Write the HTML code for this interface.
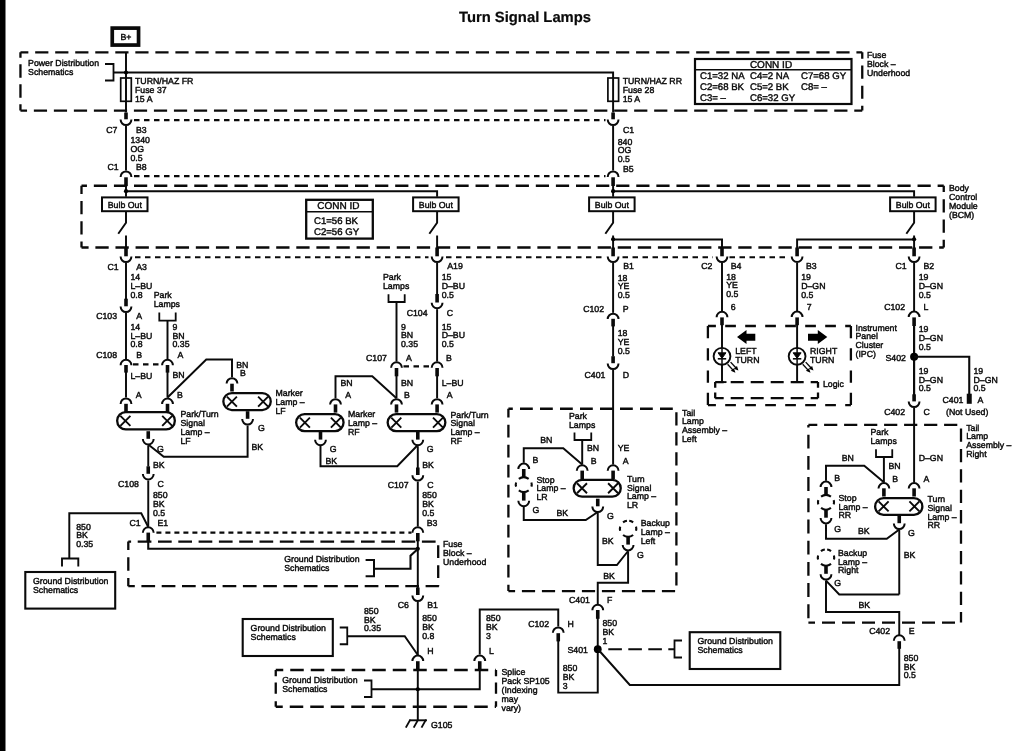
<!DOCTYPE html>
<html><head><meta charset="utf-8"><title>Turn Signal Lamps</title>
<style>
html,body{margin:0;padding:0;background:#fff;}
body{width:1024px;height:751px;overflow:hidden;font-family:"Liberation Sans",sans-serif;}
svg{display:block;filter:grayscale(1);text-rendering:geometricPrecision;}
svg text{font-family:"Liberation Sans",sans-serif;fill:#0a0a0a;stroke:#0a0a0a;stroke-width:0.42px;}
.t{font-size:8.75px;}
.c{font-size:9.6px;}
.ch{font-size:10px;}
.title{font-size:14.8px;font-weight:bold;stroke-width:0.2px;}
</style></head><body>
<svg width="1024" height="751" viewBox="0 0 1024 751" fill="none" stroke="#0a0a0a" stroke-linecap="butt" stroke-linejoin="miter">
<rect x="0" y="0" width="5.5" height="751" fill="#000" stroke="none"/>
<text x="525" y="21.7" class="title" text-anchor="middle">Turn Signal Lamps</text>
<rect x="112.25" y="28.1" width="26.3" height="16.95" stroke-width="3.7" fill="none"/>
<text x="126" y="39.7" class="t" text-anchor="middle">B+</text>
<path d="M20.45 52.35 L862.25 52.35" stroke-width="2.3" stroke-dasharray="13.2 6.83" stroke-dashoffset="5.3"/>
<path d="M20.45 110.6 L862.25 110.6" stroke-width="2.3" stroke-dasharray="13.2 6.81" stroke-dashoffset="6.6"/>
<path d="M20.45 52.35 L20.45 110.6" stroke-width="2.3" stroke-dasharray="13.4 6.6" stroke-dashoffset="8.1"/>
<path d="M862.25 52.35 L862.25 110.6" stroke-width="2.3" stroke-dasharray="13.2 6.9" stroke-dashoffset="6.9"/>
<text x="28.1" y="66" class="t">Power Distribution</text>
<text x="28.1" y="75.1" class="t">Schematics</text>
<path d="M105 64 L113.5 64 L113.5 80.5 L105 80.5" stroke-width="1.8" />
<path d="M113.5 72.5 L613.1 72.5 L613.1 78" stroke-width="1.95" />
<path d="M126 52.4 L126 112.5" stroke-width="1.95" />
<circle cx="126" cy="72.5" r="2.1" fill="#000" stroke="none"/>
<rect x="120.7" y="78" width="10.6" height="23.3" stroke-width="1.7" fill="none"/>
<text x="135" y="84.3" class="t">TURN/HAZ FR</text>
<text x="135" y="93" class="t">Fuse 37</text>
<text x="135" y="101.7" class="t">15 A</text>
<path d="M613.1 78 L613.1 112.5" stroke-width="1.95" />
<rect x="607.9" y="78" width="10.7" height="23.3" stroke-width="1.7" fill="none"/>
<text x="622.7" y="84.3" class="t">TURN/HAZ RR</text>
<text x="622.7" y="93" class="t">Fuse 28</text>
<text x="622.7" y="101.7" class="t">15 A</text>
<text x="866.9" y="57.9" class="t">Fuse</text>
<text x="866.9" y="66.75" class="t">Block –</text>
<text x="866.9" y="75.6" class="t">Underhood</text>
<rect x="695" y="59" width="156.5" height="45" stroke-width="2.2" fill="none"/>
<path d="M695 69.7 L851.5 69.7" stroke-width="1.6" />
<text x="771" y="67.9" class="ch" text-anchor="middle">CONN ID</text>
<text x="700" y="79" class="c">C1=32 NA</text>
<text x="700" y="89.9" class="c">C2=68 BK</text>
<text x="700" y="100.8" class="c">C3= –</text>
<text x="750" y="79" class="c">C4=2 NA</text>
<text x="750" y="89.9" class="c">C5=2 BK</text>
<text x="750" y="100.8" class="c">C6=32 GY</text>
<text x="801" y="79" class="c">C7=68 GY</text>
<text x="801" y="89.9" class="c">C8= –</text>
<path d="M126 112.5 V119.3" stroke-width="3.6"/>
<path d="M120.6 119.6 A5.4 5.4 0 0 0 131.4 119.6" stroke-width="2"/>
<path d="M126 126 L126 170.5" stroke-width="1.95" />
<path d="M120.6 176.9 A5.4 5.4 0 0 1 131.4 176.9" stroke-width="2"/>
<path d="M126 177.3 V186" stroke-width="3.6"/>
<path d="M613.1 112.5 V119.3" stroke-width="3.6"/>
<path d="M607.7 119.6 A5.4 5.4 0 0 0 618.5 119.6" stroke-width="2"/>
<path d="M613.1 126 L613.1 170.5" stroke-width="1.95" />
<path d="M607.7 176.9 A5.4 5.4 0 0 1 618.5 176.9" stroke-width="2"/>
<path d="M613.1 177.3 V186" stroke-width="3.6"/>
<path d="M134 120.1 H605.5" stroke-width="2.1" stroke-dasharray="5.5 4.5"/>
<path d="M134 176.1 H605.5" stroke-width="2.1" stroke-dasharray="5.5 4.5"/>
<text x="106.3" y="132.6" class="t">C7</text>
<text x="136" y="132.6" class="t">B3</text>
<text x="130.5" y="143.2" class="t">1340</text>
<text x="130.5" y="151.9" class="t">OG</text>
<text x="130.5" y="160.6" class="t">0.5</text>
<text x="107.5" y="170.2" class="t">C1</text>
<text x="136" y="170.2" class="t">B8</text>
<text x="623" y="132.6" class="t">C1</text>
<text x="617.7" y="144.5" class="t">840</text>
<text x="617.7" y="153.2" class="t">OG</text>
<text x="617.7" y="161.9" class="t">0.5</text>
<text x="623" y="172" class="t">B5</text>
<path d="M81.5 185.75 L943.75 185.75" stroke-width="2.3" stroke-dasharray="13.2 6.89" stroke-dashoffset="7.75"/>
<path d="M81.5 247.5 L943.75 247.5" stroke-width="2.3" stroke-dasharray="13.3 6.79" stroke-dashoffset="6.2"/>
<path d="M81.5 185.75 L81.5 247.5" stroke-width="2.3" stroke-dasharray="13.2 7.1" stroke-dashoffset="5.05"/>
<path d="M943.75 185.75 L943.75 247.5" stroke-width="2.3" stroke-dasharray="13.2 7.1" stroke-dashoffset="6.85"/>
<text x="949" y="190.8" class="t">Body</text>
<text x="949" y="199.7" class="t">Control</text>
<text x="949" y="208.6" class="t">Module</text>
<text x="949" y="217.5" class="t">(BCM)</text>
<path d="M126 186 L126 196.75" stroke-width="1.95" />
<path d="M126 191.2 L437.1 191.2 L437.1 196.75" stroke-width="1.95" />
<circle cx="126" cy="191.2" r="2.1" fill="#000" stroke="none"/>
<path d="M613.1 186 L613.1 196.75" stroke-width="1.95" />
<path d="M613.1 191.2 L914.1 191.2 L914.1 196.75" stroke-width="1.95" />
<circle cx="613.1" cy="191.2" r="2.1" fill="#000" stroke="none"/>
<rect x="102" y="197.4" width="45.5" height="13.8" stroke-width="2" fill="#fff"/>
<text x="124.8" y="207.8" class="t" text-anchor="middle">Bulb Out</text>
<path d="M126 212 L126 222.8 L118.25 233.8" stroke-width="1.95" />
<rect x="413.1" y="197.4" width="45.5" height="13.8" stroke-width="2" fill="#fff"/>
<text x="435.9" y="207.8" class="t" text-anchor="middle">Bulb Out</text>
<path d="M437.1 212 L437.1 222.8 L429.35 233.8" stroke-width="1.95" />
<rect x="589.1" y="197.4" width="45.5" height="13.8" stroke-width="2" fill="#fff"/>
<text x="611.9" y="207.8" class="t" text-anchor="middle">Bulb Out</text>
<path d="M613.1 212 L613.1 222.8 L605.35 233.8" stroke-width="1.95" />
<rect x="890.1" y="197.4" width="45.5" height="13.8" stroke-width="2" fill="#fff"/>
<text x="912.9" y="207.8" class="t" text-anchor="middle">Bulb Out</text>
<path d="M914.1 212 L914.1 222.8 L906.35 233.8" stroke-width="1.95" />
<rect x="306.2" y="199.8" width="66.6" height="38.8" stroke-width="2.3" fill="none"/>
<path d="M306.2 211.8 L372.8 211.8" stroke-width="1.6" />
<text x="338.3" y="209.2" class="ch" text-anchor="middle">CONN ID</text>
<text x="314" y="224.3" class="c">C1=56 BK</text>
<text x="314" y="235.1" class="c">C2=56 GY</text>
<path d="M126 235.5 L126 248" stroke-width="1.95" />
<path d="M437.1 235.5 L437.1 248" stroke-width="1.95" />
<path d="M613.1 235.5 L613.1 248" stroke-width="1.95" />
<path d="M613.1 239.5 L722 239.5 L722 248" stroke-width="1.95" />
<circle cx="613.1" cy="239.3" r="2.1" fill="#000" stroke="none"/>
<path d="M914.1 235.5 L914.1 248" stroke-width="1.95" />
<path d="M914.1 239.5 L797.1 239.5 L797.1 248" stroke-width="1.95" />
<circle cx="914.1" cy="239.3" r="2.1" fill="#000" stroke="none"/>
<path d="M126 247.5 V256.3" stroke-width="3.6"/>
<path d="M120.6 256.6 A5.4 5.4 0 0 0 131.4 256.6" stroke-width="2"/>
<path d="M437.1 247.5 V256.3" stroke-width="3.6"/>
<path d="M431.7 256.6 A5.4 5.4 0 0 0 442.5 256.6" stroke-width="2"/>
<path d="M613.1 247.5 V256.3" stroke-width="3.6"/>
<path d="M607.7 256.6 A5.4 5.4 0 0 0 618.5 256.6" stroke-width="2"/>
<path d="M722 247.5 V256.3" stroke-width="3.6"/>
<path d="M716.6 256.6 A5.4 5.4 0 0 0 727.4 256.6" stroke-width="2"/>
<path d="M797.1 247.5 V256.3" stroke-width="3.6"/>
<path d="M791.7 256.6 A5.4 5.4 0 0 0 802.5 256.6" stroke-width="2"/>
<path d="M914.1 247.5 V256.3" stroke-width="3.6"/>
<path d="M908.7 256.6 A5.4 5.4 0 0 0 919.5 256.6" stroke-width="2"/>
<path d="M135 257.2 H428.5" stroke-width="2.1" stroke-dasharray="5.5 4.5"/>
<path d="M446 257.2 H606" stroke-width="2.1" stroke-dasharray="5.5 4.5"/>
<path d="M622.5 257.2 H713" stroke-width="2.1" stroke-dasharray="5.5 4.5"/>
<path d="M729.5 257.2 H789" stroke-width="2.1" stroke-dasharray="5.5 4.5"/>
<text x="107.5" y="269.5" class="t">C1</text>
<text x="136.2" y="269.5" class="t">A3</text>
<text x="130.5" y="280.2" class="t">14</text>
<text x="130.5" y="288.9" class="t">L–BU</text>
<text x="130.5" y="297.6" class="t">0.8</text>
<path d="M126 263 L126 299" stroke-width="1.95" />
<path d="M126 298.7 V306.3" stroke-width="3.6"/>
<path d="M120.6 306.6 A5.4 5.4 0 0 0 131.4 306.6" stroke-width="2"/>
<text x="96.2" y="319.3" class="t">C103</text>
<text x="136.2" y="319.3" class="t">A</text>
<text x="130.5" y="330" class="t">14</text>
<text x="130.5" y="338.7" class="t">L–BU</text>
<text x="130.5" y="347.4" class="t">0.8</text>
<path d="M126 313 L126 359" stroke-width="1.95" />
<text x="153.7" y="297.6" class="t">Park</text>
<text x="153.7" y="306.9" class="t">Lamps</text>
<path d="M159.3 312.5 L159.3 320.7 L175.7 320.7 L175.7 312.5" stroke-width="1.8" />
<path d="M167.5 320.7 L167.5 359" stroke-width="1.95" />
<text x="172.5" y="330" class="t">9</text>
<text x="172.5" y="338.7" class="t">BN</text>
<text x="172.5" y="347.4" class="t">0.35</text>
<text x="96.2" y="357.6" class="t">C108</text>
<text x="136.2" y="357.6" class="t">B</text>
<text x="177.5" y="357.6" class="t">A</text>
<path d="M120.6 365.2 A5.4 5.4 0 0 1 131.4 365.2" stroke-width="2"/>
<path d="M126 365 V372.6" stroke-width="3.6"/>
<path d="M126 372 L126 397.5" stroke-width="1.95" />
<path d="M120.6 403.9 A5.4 5.4 0 0 1 131.4 403.9" stroke-width="2"/>
<path d="M126 403.8 V412" stroke-width="3.6"/>
<path d="M162.1 365.2 A5.4 5.4 0 0 1 172.9 365.2" stroke-width="2"/>
<path d="M167.5 365 V372.6" stroke-width="3.6"/>
<path d="M167.5 372 L167.5 397.5" stroke-width="1.95" />
<path d="M162.1 403.9 A5.4 5.4 0 0 1 172.9 403.9" stroke-width="2"/>
<path d="M167.5 403.8 V412" stroke-width="3.6"/>
<path d="M133 364.4 H161" stroke-width="2.1" stroke-dasharray="5.5 4.5"/>
<text x="130.5" y="379.3" class="t">L–BU</text>
<text x="172.5" y="378.2" class="t">BN</text>
<text x="135.7" y="397.5" class="t">A</text>
<text x="177" y="397.5" class="t">B</text>
<rect x="117.15" y="412.15" width="57.7" height="17.3" rx="8.65" ry="8.65" stroke-width="2.3" fill="#fff"/>
<path d="M120.4 415.8 L130.4 425.8 M130.4 415.8 L120.4 425.8" stroke-width="1.9"/>
<path d="M162.2 415.8 L172.2 425.8 M172.2 415.8 L162.2 425.8" stroke-width="1.9"/>
<text x="180.5" y="417.1" class="t">Park/Turn</text>
<text x="180.5" y="425.9" class="t">Signal</text>
<text x="180.5" y="434.7" class="t">Lamp –</text>
<text x="180.5" y="443.5" class="t">LF</text>
<path d="M148.25 431.2 V438.8" stroke-width="3.6"/>
<path d="M142.85 439.1 A5.4 5.4 0 0 0 153.65 439.1" stroke-width="2"/>
<text x="157" y="451.8" class="t">G</text>
<path d="M148.25 445.5 L148.25 466.5" stroke-width="1.95" />
<path d="M148.25 444.5 L163.75 456.75 L247.6 456.75 L247.6 425.5" stroke-width="1.95" />
<text x="153" y="467.5" class="t">BK</text>
<path d="M148.25 466.3 V473.8" stroke-width="3.6"/>
<path d="M142.85 474.1 A5.4 5.4 0 0 0 153.65 474.1" stroke-width="2"/>
<text x="118" y="486.8" class="t">C108</text>
<text x="157.5" y="486.8" class="t">C</text>
<text x="153" y="498" class="t">850</text>
<text x="153" y="506.75" class="t">BK</text>
<text x="153" y="515.5" class="t">0.5</text>
<path d="M148.25 480.5 L148.25 526.5" stroke-width="1.95" />
<text x="129.5" y="526.3" class="t">C1</text>
<text x="157.5" y="526.3" class="t">E1</text>
<path d="M142.85 532.7 A5.4 5.4 0 0 1 153.65 532.7" stroke-width="2"/>
<path d="M148.25 532.6 V541.3" stroke-width="3.6"/>
<path d="M167.5 397.5 L206.25 359.5 L232 359.5 L232 377.2" stroke-width="1.95" />
<text x="236.2" y="367.6" class="t">BN</text>
<text x="240" y="376.3" class="t">B</text>
<path d="M226.6 383.6 A5.4 5.4 0 0 1 237.4 383.6" stroke-width="2"/>
<path d="M232 383.7 V391.5" stroke-width="3.6"/>
<rect x="223.35" y="393.05" width="47.4" height="17" rx="8.5" ry="8.5" stroke-width="2.3" fill="#fff"/>
<path d="M226.9 396.55 L236.9 406.55 M236.9 396.55 L226.9 406.55" stroke-width="1.9"/>
<path d="M258.1 396.55 L268.1 406.55 M268.1 396.55 L258.1 406.55" stroke-width="1.9"/>
<path d="M247.6 411.2 V418.8" stroke-width="3.6"/>
<path d="M242.2 419.1 A5.4 5.4 0 0 0 253 419.1" stroke-width="2"/>
<text x="258" y="431.3" class="t">G</text>
<text x="251.5" y="450" class="t">BK</text>
<text x="275.5" y="396.3" class="t">Marker</text>
<text x="275.5" y="405.05" class="t">Lamp –</text>
<text x="275.5" y="413.8" class="t">LF</text>
<path d="M148.25 527 L141.25 513.2 L69.3 513.2 L69.3 558.25" stroke-width="1.95" />
<path d="M62 566.5 L62 558.5 L78.3 558.5 L78.3 566.5" stroke-width="1.9" />
<text x="76.2" y="529.5" class="t">850</text>
<text x="76.2" y="538.25" class="t">BK</text>
<text x="76.2" y="547" class="t">0.35</text>
<rect x="25.3" y="572" width="89.9" height="36.6" stroke-width="2.1" fill="none"/>
<text x="33" y="584.3" class="t">Ground Distribution</text>
<text x="33" y="593.1" class="t">Schematics</text>
<text x="447.2" y="269.3" class="t">A19</text>
<text x="441.7" y="280" class="t">15</text>
<text x="441.7" y="288.75" class="t">D–BU</text>
<text x="441.7" y="297.5" class="t">0.5</text>
<path d="M437.1 263 L437.1 294.5" stroke-width="1.95" />
<path d="M437.1 294 V302.5" stroke-width="3.6"/>
<path d="M431.7 302.8 A5.4 5.4 0 0 0 442.5 302.8" stroke-width="2"/>
<text x="406.7" y="315.8" class="t">C104</text>
<text x="446.7" y="315.8" class="t">C</text>
<text x="441.7" y="329.6" class="t">15</text>
<text x="441.7" y="338.4" class="t">D–BU</text>
<text x="441.7" y="347.2" class="t">0.5</text>
<path d="M437.1 309.2 L437.1 361.5" stroke-width="1.95" />
<text x="383" y="280" class="t">Park</text>
<text x="383" y="288.8" class="t">Lamps</text>
<path d="M388.5 294.2 L388.5 302 L404.7 302 L404.7 294.2" stroke-width="1.8" />
<path d="M396.5 302 L396.5 361.5" stroke-width="1.95" />
<text x="401" y="329.6" class="t">9</text>
<text x="401" y="338.4" class="t">BN</text>
<text x="401" y="347.2" class="t">0.35</text>
<text x="366" y="361.3" class="t">C107</text>
<text x="406" y="361.3" class="t">A</text>
<text x="446" y="361.3" class="t">B</text>
<path d="M391.1 367.7 A5.4 5.4 0 0 1 401.9 367.7" stroke-width="2"/>
<path d="M396.5 368 V376.3" stroke-width="3.6"/>
<path d="M396.5 376 L396.5 398.2" stroke-width="1.95" />
<path d="M391.1 404.6 A5.4 5.4 0 0 1 401.9 404.6" stroke-width="2"/>
<path d="M396.5 404.4 V412.6" stroke-width="3.6"/>
<path d="M431.7 367.7 A5.4 5.4 0 0 1 442.5 367.7" stroke-width="2"/>
<path d="M437.1 368 V376.3" stroke-width="3.6"/>
<path d="M437.1 376 L437.1 398.2" stroke-width="1.95" />
<path d="M431.7 404.6 A5.4 5.4 0 0 1 442.5 404.6" stroke-width="2"/>
<path d="M437.1 404.4 V412.6" stroke-width="3.6"/>
<path d="M403.5 366.4 H430.5" stroke-width="2.1" stroke-dasharray="5.5 4.5"/>
<text x="401" y="385.5" class="t">BN</text>
<text x="441.7" y="385.5" class="t">L–BU</text>
<text x="404" y="397.6" class="t">B</text>
<text x="446.7" y="397.6" class="t">A</text>
<rect x="387.65" y="414.15" width="57.7" height="16.9" rx="8.45" ry="8.45" stroke-width="2.3" fill="#fff"/>
<path d="M391.3 417.6 L401.3 427.6 M401.3 417.6 L391.3 427.6" stroke-width="1.9"/>
<path d="M433 417.6 L443 427.6 M443 417.6 L433 427.6" stroke-width="1.9"/>
<text x="450.5" y="417.5" class="t">Park/Turn</text>
<text x="450.5" y="426.25" class="t">Signal</text>
<text x="450.5" y="435" class="t">Lamp –</text>
<text x="450.5" y="443.75" class="t">RF</text>
<path d="M417.8 432 V439.6" stroke-width="3.6"/>
<path d="M412.4 439.8 A5.4 5.4 0 0 0 423.2 439.8" stroke-width="2"/>
<text x="426.7" y="452" class="t">G</text>
<path d="M417.8 446.2 L417.8 468" stroke-width="1.95" />
<path d="M417.8 445 L397.25 466.25 L320.5 466.25 L320.5 446" stroke-width="1.95" />
<text x="422.2" y="467.5" class="t">BK</text>
<path d="M417.8 467.5 V475" stroke-width="3.6"/>
<path d="M412.4 475.2 A5.4 5.4 0 0 0 423.2 475.2" stroke-width="2"/>
<text x="387.7" y="487.5" class="t">C107</text>
<text x="427.2" y="487.5" class="t">C</text>
<text x="422.2" y="498" class="t">850</text>
<text x="422.2" y="506.75" class="t">BK</text>
<text x="422.2" y="515.5" class="t">0.5</text>
<text x="426.7" y="525.5" class="t">B3</text>
<path d="M417.8 481.6 L417.8 526.5" stroke-width="1.95" />
<path d="M412.4 532.7 A5.4 5.4 0 0 1 423.2 532.7" stroke-width="2"/>
<path d="M417.8 533 V541.3" stroke-width="3.6"/>
<path d="M396.5 398.2 L372.25 376.25 L335.5 376.25 L335.5 398.2" stroke-width="1.95" />
<text x="340.5" y="385.5" class="t">BN</text>
<text x="345.2" y="398" class="t">A</text>
<path d="M330.1 404.6 A5.4 5.4 0 0 1 340.9 404.6" stroke-width="2"/>
<path d="M335.5 404.4 V412.6" stroke-width="3.6"/>
<rect x="296.15" y="414.15" width="47.4" height="16.9" rx="8.45" ry="8.45" stroke-width="2.3" fill="#fff"/>
<path d="M299.9 417.6 L309.9 427.6 M309.9 417.6 L299.9 427.6" stroke-width="1.9"/>
<path d="M330.9 417.6 L340.9 427.6 M340.9 417.6 L330.9 427.6" stroke-width="1.9"/>
<text x="348" y="417" class="t">Marker</text>
<text x="348" y="425.9" class="t">Lamp –</text>
<text x="348" y="434.8" class="t">RF</text>
<path d="M320.5 432 V439.6" stroke-width="3.6"/>
<path d="M315.1 439.8 A5.4 5.4 0 0 0 325.9 439.8" stroke-width="2"/>
<text x="329.7" y="452" class="t">G</text>
<text x="325.5" y="463.8" class="t">BK</text>
<path d="M156.4 532.6 H411.5" stroke-width="2.1" stroke-dasharray="5 4"/>
<path d="M128.3 541.6 L438.2 541.6" stroke-width="2.3" stroke-dasharray="13.7 6.6" stroke-dashoffset="10.9"/>
<path d="M128.3 586.2 L438.9 586.2" stroke-width="2.3" stroke-dasharray="13.7 6.6" stroke-dashoffset="7.2"/>
<path d="M128.3 541.6 L128.3 586.2" stroke-width="2.3" stroke-dasharray="13.5 7.2" stroke-dashoffset="5.1"/>
<path d="M438.2 541.6 L438.2 586.2" stroke-width="2.3" stroke-dasharray="12.8 7.2" stroke-dashoffset="16.3"/>
<path d="M148.25 541 L148.25 548.75 L417.8 548.75" stroke-width="2.1" />
<path d="M417.8 541 L417.8 588" stroke-width="1.95" />
<circle cx="417.8" cy="548.75" r="2.1" fill="#000" stroke="none"/>
<text x="443" y="547.2" class="t">Fuse</text>
<text x="443" y="556.1" class="t">Block –</text>
<text x="443" y="565" class="t">Underhood</text>
<text x="284.2" y="562.2" class="t">Ground Distribution</text>
<text x="284.2" y="571" class="t">Schematics</text>
<path d="M365.6 560 L374 560 L374 576.3 L365.6 576.3" stroke-width="2" />
<path d="M374 568.7 L410.5 568.7 L410.5 555.6 L417.8 549" stroke-width="2.1" />
<path d="M417.8 587.5 V595" stroke-width="3.6"/>
<path d="M412.4 595.6 A5.4 5.4 0 0 0 423.2 595.6" stroke-width="2"/>
<text x="397.7" y="608" class="t">C6</text>
<text x="427.2" y="608" class="t">B1</text>
<text x="364" y="613.8" class="t">850</text>
<text x="364" y="622.55" class="t">BK</text>
<text x="364" y="631.3" class="t">0.35</text>
<text x="422.2" y="621.3" class="t">850</text>
<text x="422.2" y="630.05" class="t">BK</text>
<text x="422.2" y="638.8" class="t">0.8</text>
<text x="486" y="621.3" class="t">850</text>
<text x="486" y="630.05" class="t">BK</text>
<text x="486" y="638.8" class="t">3</text>
<text x="427.2" y="654.3" class="t">H</text>
<text x="489" y="654.3" class="t">L</text>
<path d="M417.8 602 L417.8 655" stroke-width="1.95" />
<rect x="242.7" y="619" width="90.1" height="37" stroke-width="2.1" fill="none"/>
<text x="250.6" y="630.6" class="t">Ground Distribution</text>
<text x="250.6" y="639.5" class="t">Schematics</text>
<path d="M339.75 627.5 L347.25 627.5 L347.25 644.25 L339.75 644.25" stroke-width="1.8" />
<path d="M347.25 636.25 L404.75 636.25 L417.8 655" stroke-width="1.95" />
<path d="M412.4 661 A5.4 5.4 0 0 1 423.2 661" stroke-width="2"/>
<path d="M417.8 661.2 V670.2" stroke-width="3.6"/>
<path d="M474.35 661 A5.4 5.4 0 0 1 485.15 661" stroke-width="2"/>
<path d="M479.75 661.2 V670.2" stroke-width="3.6"/>
<path d="M275.75 670 L496 670" stroke-width="2.3" stroke-dasharray="13.5 7" stroke-dashoffset="6"/>
<path d="M275.75 706.75 L496 706.75" stroke-width="2.3" stroke-dasharray="13.5 7" stroke-dashoffset="6.5"/>
<path d="M275.75 670 L275.75 706.75" stroke-width="2.3" stroke-dasharray="6.25 6.25 11.25 7.5 5.5"/>
<path d="M496 670 L496 706.75" stroke-width="2.3" stroke-dasharray="6.25 6.25 11.25 7.5 5.5"/>
<text x="282.2" y="683" class="t">Ground Distribution</text>
<text x="282.2" y="691.8" class="t">Schematics</text>
<path d="M364 680.5 L371.5 680.5 L371.5 697 L364 697" stroke-width="1.8" />
<path d="M371.5 689.25 L479.75 689.25 L479.75 670" stroke-width="1.95" />
<path d="M417.8 670 L417.8 720.5" stroke-width="1.95" />
<circle cx="417.8" cy="689.25" r="2.1" fill="#000" stroke="none"/>
<path d="M409.4 720.3 L426.9 720.3" stroke-width="1.9" />
<path d="M410.3 719.6 L405.8 727.6" stroke-width="1.9" />
<path d="M418.2 719.6 L413.7 727.6" stroke-width="1.9" />
<path d="M426 719.6 L421.5 727.6" stroke-width="1.9" />
<text x="431" y="727.6" class="t">G105</text>
<text x="501.5" y="675" class="t">Splice</text>
<text x="501.5" y="683.9" class="t">Pack SP105</text>
<text x="501.5" y="692.8" class="t">(Indexing</text>
<text x="501.5" y="701.7" class="t">may</text>
<text x="501.5" y="710.6" class="t">vary)</text>
<path d="M479.75 654.6 L479.75 609.5 L558.25 609.5 L558.25 626.4" stroke-width="1.95" />
<path d="M552.85 632.8 A5.4 5.4 0 0 1 563.65 632.8" stroke-width="2"/>
<path d="M558.25 633.2 V641.4" stroke-width="3.6"/>
<text x="528.2" y="627" class="t">C102</text>
<text x="567.5" y="627" class="t">H</text>
<path d="M558.25 641 L558.25 692.6 L597.75 692.6 L597.75 648.75" stroke-width="1.95" />
<text x="562.7" y="671.3" class="t">850</text>
<text x="562.7" y="680.05" class="t">BK</text>
<text x="562.7" y="688.8" class="t">3</text>
<text x="623.2" y="269.3" class="t">B1</text>
<text x="617.7" y="280.5" class="t">18</text>
<text x="617.7" y="289.3" class="t">YE</text>
<text x="617.7" y="298.1" class="t">0.5</text>
<path d="M613.1 263 L613.1 312.8" stroke-width="1.95" />
<text x="583.2" y="312" class="t">C102</text>
<text x="622.7" y="312" class="t">P</text>
<path d="M607.7 319.1 A5.4 5.4 0 0 1 618.5 319.1" stroke-width="2"/>
<path d="M613.1 318.8 V326.4" stroke-width="3.6"/>
<text x="617.7" y="336.3" class="t">18</text>
<text x="617.7" y="345.05" class="t">YE</text>
<text x="617.7" y="353.8" class="t">0.5</text>
<path d="M613.1 326 L613.1 356.5" stroke-width="1.95" />
<path d="M613.1 356.2 V363.2" stroke-width="3.6"/>
<path d="M607.7 363.6 A5.4 5.4 0 0 0 618.5 363.6" stroke-width="2"/>
<text x="584.5" y="377.5" class="t">C401</text>
<text x="622.7" y="377.5" class="t">D</text>
<path d="M613.1 370 L613.1 464.5" stroke-width="1.95" />
<path d="M508.4 408.75 L676.4 408.75" stroke-width="2.3" stroke-dasharray="12.8 7.2" stroke-dashoffset="8.4"/>
<path d="M508.4 408.75 L508.4 591.1" stroke-width="2.3" stroke-dasharray="12.8 7.2" stroke-dashoffset="4.05"/>
<path d="M676.4 408.75 L676.4 591.1" stroke-width="2.3" stroke-dasharray="13.2 6.8" stroke-dashoffset="16.55"/>
<path d="M508.4 591.1 L676.4 591.1" stroke-width="2.3" stroke-dasharray="13.2 6.8" stroke-dashoffset="6.5"/>
<text x="682" y="415.5" class="t">Tail</text>
<text x="682" y="424.25" class="t">Lamp</text>
<text x="682" y="433" class="t">Assembly –</text>
<text x="682" y="441.75" class="t">Left</text>
<text x="569" y="419.3" class="t">Park</text>
<text x="569" y="428.1" class="t">Lamps</text>
<path d="M574.5 432.5 L574.5 440 L591.25 440 L591.25 432.5" stroke-width="1.8" />
<path d="M582.2 440 L582.2 464.5" stroke-width="1.95" />
<text x="587" y="450.8" class="t">BN</text>
<text x="617.7" y="450.8" class="t">YE</text>
<text x="590.7" y="464.3" class="t">B</text>
<text x="622.7" y="464.3" class="t">A</text>
<path d="M576.8 470.7 A5.4 5.4 0 0 1 587.6 470.7" stroke-width="2"/>
<path d="M582.2 470.6 V479" stroke-width="3.6"/>
<path d="M607.7 470.7 A5.4 5.4 0 0 1 618.5 470.7" stroke-width="2"/>
<path d="M613.1 470.6 V479" stroke-width="3.6"/>
<rect x="573.65" y="479.85" width="47.1" height="16.8" rx="8.4" ry="8.4" stroke-width="2.3" fill="#fff"/>
<path d="M577 483.25 L587 493.25 M587 483.25 L577 493.25" stroke-width="1.9"/>
<path d="M608.1 483.25 L618.1 493.25 M618.1 483.25 L608.1 493.25" stroke-width="1.9"/>
<text x="627" y="481.8" class="t">Turn</text>
<text x="627" y="490.6" class="t">Signal</text>
<text x="627" y="499.4" class="t">Lamp –</text>
<text x="627" y="508.2" class="t">LR</text>
<path d="M597.75 498.7 V506.3" stroke-width="3.6"/>
<path d="M592.35 506.6 A5.4 5.4 0 0 0 603.15 506.6" stroke-width="2"/>
<text x="607" y="518.8" class="t">G</text>
<path d="M582.2 464.5 L563.25 448.25 L523.75 448.25 L523.75 462.7" stroke-width="1.95" />
<text x="540.2" y="442.5" class="t">BN</text>
<text x="532.5" y="462.5" class="t">B</text>
<path d="M518.35 469 A5.4 5.4 0 0 1 529.15 469" stroke-width="2"/>
<path d="M523.75 469 V477.4" stroke-width="3.6"/>
<path d="M518.82 478.93 A8 7.2 0 0 1 528.68 478.93 M528.68 490.27 A8 7.2 0 0 1 518.82 490.27 M531.4 482.49 A8 7.2 0 0 1 531.4 486.71 M516.1 486.71 A8 7.2 0 0 1 516.1 482.49" stroke-width="2.1"/>
<path d="M523.75 491.8 V500.6" stroke-width="3.6"/>
<path d="M518.35 500.8 A5.4 5.4 0 0 0 529.15 500.8" stroke-width="2"/>
<text x="536.5" y="482.5" class="t">Stop</text>
<text x="536.5" y="491.25" class="t">Lamp –</text>
<text x="536.5" y="500" class="t">LR</text>
<text x="532.5" y="513.3" class="t">G</text>
<text x="556.5" y="515.8" class="t">BK</text>
<path d="M523.75 507 L523.75 520 L585.75 520 L597.75 512" stroke-width="1.95" />
<path d="M597.75 513 L597.75 565 L616.9 565 L628.1 551" stroke-width="1.95" />
<text x="602" y="543.8" class="t">BK</text>
<path d="M623.05 522.4 A8.2 8 0 0 1 626.96 520.78 M629.24 520.78 A8.2 8 0 0 1 633.15 522.4 M633.15 535 A8.2 8 0 0 1 623.05 535 M636.02 526.63 A8.2 8 0 0 1 636.02 530.77 M620.18 530.77 A8.2 8 0 0 1 620.18 526.63" stroke-width="2.1"/>
<path d="M628.1 536.7 V544.6" stroke-width="3.6"/>
<path d="M622.7 545 A5.4 5.4 0 0 0 633.5 545" stroke-width="2"/>
<text x="640.7" y="526.3" class="t">Backup</text>
<text x="640.7" y="535.05" class="t">Lamp –</text>
<text x="640.7" y="543.8" class="t">Left</text>
<text x="637" y="557.5" class="t">G</text>
<path d="M628.1 551.4 L628.1 582.8 L597.75 582.8 L597.75 604" stroke-width="1.95" />
<text x="603.2" y="579.3" class="t">BK</text>
<text x="569" y="603" class="t">C401</text>
<text x="607" y="603" class="t">F</text>
<path d="M592.35 610.2 A5.4 5.4 0 0 1 603.15 610.2" stroke-width="2"/>
<path d="M597.75 610 V618.8" stroke-width="3.6"/>
<text x="602.5" y="626.3" class="t">850</text>
<text x="602.5" y="634.9" class="t">BK</text>
<text x="602.5" y="643.5" class="t">1</text>
<path d="M597.75 618 L597.75 648.75" stroke-width="1.95" />
<circle cx="597.75" cy="649.2" r="3.9" fill="#000" stroke="none"/>
<text x="567.5" y="652.5" class="t">S401</text>
<path d="M608.3 649.3 L674.5 649.3" stroke-width="2" stroke-dasharray="13.6 6.4" stroke-dashoffset="0"/>
<path d="M682 640.5 L674.5 640.5 L674.5 657.5 L682 657.5" stroke-width="1.8" />
<rect x="689.7" y="632.2" width="90.6" height="36.8" stroke-width="2.1" fill="none"/>
<text x="697.5" y="643.8" class="t">Ground Distribution</text>
<text x="697.5" y="652.55" class="t">Schematics</text>
<path d="M597.75 649 L629.8 685 L899.25 685 L899.25 648" stroke-width="1.95" />
<text x="701.2" y="269.3" class="t">C2</text>
<text x="730.7" y="269.3" class="t">B4</text>
<text x="726.2" y="279.5" class="t">18</text>
<text x="726.2" y="288.4" class="t">YE</text>
<text x="726.2" y="297.3" class="t">0.5</text>
<text x="730.7" y="310" class="t">6</text>
<path d="M722 263 L722 311" stroke-width="1.95" />
<path d="M716.6 317.2 A5.4 5.4 0 0 1 727.4 317.2" stroke-width="2"/>
<path d="M722 317.4 V325.2" stroke-width="3.6"/>
<text x="806" y="269.3" class="t">B3</text>
<text x="801.2" y="280" class="t">19</text>
<text x="801.2" y="288.75" class="t">D–GN</text>
<text x="801.2" y="297.5" class="t">0.5</text>
<text x="806.7" y="310" class="t">7</text>
<path d="M797.1 263 L797.1 311" stroke-width="1.95" />
<path d="M791.7 317 A5.4 5.4 0 0 1 802.5 317" stroke-width="2"/>
<path d="M797.1 317.4 V325.2" stroke-width="3.6"/>
<path d="M707.9 326 L850.9 326" stroke-width="2.3" stroke-dasharray="10.7 9.3" stroke-dashoffset="2.7"/>
<path d="M707.9 405.1 L850.9 405.1" stroke-width="2.3" stroke-dasharray="10.7 9.3" stroke-dashoffset="2.7"/>
<path d="M707.9 326 L707.9 405.1" stroke-width="2.3" stroke-dasharray="12.36 9.89" stroke-dashoffset="0"/>
<path d="M850.9 326 L850.9 405.1" stroke-width="2.3" stroke-dasharray="12.36 9.89" stroke-dashoffset="0"/>
<text x="855.5" y="330.5" class="t">Instrument</text>
<text x="855.5" y="339.25" class="t">Panel</text>
<text x="855.5" y="348" class="t">Cluster</text>
<text x="855.5" y="356.75" class="t">(IPC)</text>
<path d="M737 337 L746.5 330 V333.7 H755.3 V340.7 H746.5 V344 Z" fill="#000" stroke="none"/>
<path d="M827.3 337 L817.8 330 V333.7 H808 V340.7 H817.8 V344 Z" fill="#000" stroke="none"/>
<path d="M722 325 L722 382.1" stroke-width="1.95" />
<circle cx="722" cy="356.3" r="8.4" stroke-width="1.9" fill="#fff"/>
<path d="M722 348 L722 364.6" stroke-width="1.5" />
<path d="M718 352.8 H726 L722 358.3 Z" fill="#000" stroke-width="1"/>
<path d="M717.8 358.8 L726.2 358.8" stroke-width="1.6" />
<path d="M727.6 364.2 L733.5 370.6" stroke-width="1.4" />
<path d="M735.4 372.7 l-4.6 -1.9 l3.2 -2.6 Z" fill="#000" stroke="none"/>
<path d="M730.6 362.1 L736.5 368.5" stroke-width="1.4" />
<path d="M738.4 370.6 l-4.6 -1.9 l3.2 -2.6 Z" fill="#000" stroke="none"/>
<path d="M797.1 325 L797.1 382.1" stroke-width="1.95" />
<circle cx="797.1" cy="356.3" r="8.4" stroke-width="1.9" fill="#fff"/>
<path d="M797.1 348 L797.1 364.6" stroke-width="1.5" />
<path d="M793.1 352.8 H801.1 L797.1 358.3 Z" fill="#000" stroke-width="1"/>
<path d="M792.9 358.8 L801.3 358.8" stroke-width="1.6" />
<path d="M802.7 364.2 L808.6 370.6" stroke-width="1.4" />
<path d="M810.5 372.7 l-4.6 -1.9 l3.2 -2.6 Z" fill="#000" stroke="none"/>
<path d="M805.7 362.1 L811.6 368.5" stroke-width="1.4" />
<path d="M813.5 370.6 l-4.6 -1.9 l3.2 -2.6 Z" fill="#000" stroke="none"/>
<text x="735.2" y="353.8" class="t">LEFT</text>
<text x="735.2" y="362.55" class="t">TURN</text>
<text x="810" y="353.8" class="t">RIGHT</text>
<text x="810" y="362.55" class="t">TURN</text>
<path d="M718 382.1 L726.5 382.1" stroke-width="1.9" />
<path d="M792.8 382.1 L801.3 382.1" stroke-width="1.9" />
<path d="M715.2 382.1 L818 382.1" stroke-width="2.3" stroke-dasharray="13 7" stroke-dashoffset="4.5"/>
<path d="M715.2 382.1 L715.2 398.2" stroke-width="2.3" stroke-dasharray="5.6 4.9" stroke-dashoffset="0"/>
<path d="M818 382.1 L818 398.2" stroke-width="2.3" stroke-dasharray="5.6 4.9" stroke-dashoffset="0"/>
<path d="M715.2 398.2 L818 398.2" stroke-width="2.3" stroke-dasharray="13 7" stroke-dashoffset="4.5"/>
<text x="823" y="386.8" class="t">Logic</text>
<text x="895.5" y="269.3" class="t">C1</text>
<text x="923.5" y="269.3" class="t">B2</text>
<text x="918.7" y="280" class="t">19</text>
<text x="918.7" y="288.75" class="t">D–GN</text>
<text x="918.7" y="297.5" class="t">0.5</text>
<text x="884.2" y="310" class="t">C102</text>
<text x="923.5" y="310" class="t">L</text>
<path d="M914.1 263 L914.1 311" stroke-width="1.95" />
<path d="M908.7 317 A5.4 5.4 0 0 1 919.5 317" stroke-width="2"/>
<path d="M914.1 317.4 V326" stroke-width="3.6"/>
<text x="918.7" y="332" class="t">19</text>
<text x="918.7" y="340.75" class="t">D–GN</text>
<text x="918.7" y="349.5" class="t">0.5</text>
<path d="M914.1 325.5 L914.1 395" stroke-width="2.15" />
<circle cx="914.1" cy="356.7" r="4" fill="#000" stroke="none"/>
<text x="885.5" y="360.5" class="t">S402</text>
<path d="M914.1 356.7 L969.25 356.7 L969.25 394" stroke-width="2.1" />
<path d="M969.25 393.7 V403.8" stroke-width="5"/>
<text x="918.7" y="373.8" class="t">19</text>
<text x="918.7" y="382.55" class="t">D–GN</text>
<text x="918.7" y="391.3" class="t">0.5</text>
<text x="973.5" y="373.8" class="t">19</text>
<text x="973.5" y="382.55" class="t">D–GN</text>
<text x="973.5" y="391.3" class="t">0.5</text>
<text x="942.5" y="403.3" class="t">C401</text>
<text x="977.5" y="403.3" class="t">A</text>
<text x="946" y="414.5" class="t">(Not Used)</text>
<path d="M914.1 394.3 V401.4" stroke-width="3.6"/>
<path d="M908.7 401.6 A5.4 5.4 0 0 0 919.5 401.6" stroke-width="2"/>
<text x="884.2" y="415" class="t">C402</text>
<text x="923.5" y="415" class="t">C</text>
<path d="M914.1 408 L914.1 482.3" stroke-width="1.95" />
<path d="M808.4 424.9 L961 424.9" stroke-width="2.3" stroke-dasharray="13.2 6.8" stroke-dashoffset="4.3"/>
<path d="M808.4 424.9 L808.4 622.6" stroke-width="2.3" stroke-dasharray="13.9 7.3" stroke-dashoffset="11.4"/>
<path d="M961 424.9 L961 622.6" stroke-width="2.3" stroke-dasharray="13.3 7.1" stroke-dashoffset="16.8"/>
<path d="M808.4 622.6 L961 622.6" stroke-width="2.3" stroke-dasharray="13 7" stroke-dashoffset="6.4"/>
<text x="966.2" y="430.5" class="t">Tail</text>
<text x="966.2" y="439.35" class="t">Lamp</text>
<text x="966.2" y="448.2" class="t">Assembly –</text>
<text x="966.2" y="457.05" class="t">Right</text>
<text x="870.5" y="435" class="t">Park</text>
<text x="870.5" y="443.8" class="t">Lamps</text>
<path d="M876 449.2 L876 457 L892.25 457 L892.25 449.2" stroke-width="1.8" />
<path d="M883.9 457 L883.9 482.3" stroke-width="1.95" />
<text x="888.5" y="468.8" class="t">BN</text>
<text x="918.7" y="460.8" class="t">D–GN</text>
<text x="892.2" y="481.8" class="t">B</text>
<text x="923.5" y="481.8" class="t">A</text>
<path d="M878.5 488.5 A5.4 5.4 0 0 1 889.3 488.5" stroke-width="2"/>
<path d="M883.9 488.3 V496.5" stroke-width="3.6"/>
<path d="M908.7 488.5 A5.4 5.4 0 0 1 919.5 488.5" stroke-width="2"/>
<path d="M914.1 488.3 V496.5" stroke-width="3.6"/>
<rect x="875.15" y="498.05" width="47.2" height="16.8" rx="8.4" ry="8.4" stroke-width="2.3" fill="#fff"/>
<path d="M878.6 501.45 L888.6 511.45 M888.6 501.45 L878.6 511.45" stroke-width="1.9"/>
<path d="M909.4 501.45 L919.4 511.45 M919.4 501.45 L909.4 511.45" stroke-width="1.9"/>
<text x="927.5" y="502" class="t">Turn</text>
<text x="927.5" y="510.75" class="t">Signal</text>
<text x="927.5" y="519.5" class="t">Lamp –</text>
<text x="927.5" y="528.25" class="t">RR</text>
<path d="M899.25 515.7 V523.2" stroke-width="3.6"/>
<path d="M893.85 523.6 A5.4 5.4 0 0 0 904.65 523.6" stroke-width="2"/>
<text x="908" y="536.3" class="t">G</text>
<path d="M883.9 482.3 L864.25 465.75 L826 465.75 L826 480.7" stroke-width="1.95" />
<text x="841.7" y="460.8" class="t">BN</text>
<text x="834.2" y="480.5" class="t">B</text>
<path d="M820.6 487 A5.4 5.4 0 0 1 831.4 487" stroke-width="2"/>
<path d="M826 487 V495" stroke-width="3.6"/>
<path d="M821.07 496.63 A8 7.2 0 0 1 830.93 496.63 M830.93 507.97 A8 7.2 0 0 1 821.07 507.97 M833.65 500.19 A8 7.2 0 0 1 833.65 504.41 M818.35 504.41 A8 7.2 0 0 1 818.35 500.19" stroke-width="2.1"/>
<path d="M826 509.5 V517.7" stroke-width="3.6"/>
<path d="M820.6 518 A5.4 5.4 0 0 0 831.4 518" stroke-width="2"/>
<text x="838.5" y="500.8" class="t">Stop</text>
<text x="838.5" y="509.55" class="t">Lamp –</text>
<text x="838.5" y="518.3" class="t">RR</text>
<text x="834.2" y="531.8" class="t">G</text>
<text x="858" y="533.8" class="t">BK</text>
<path d="M826 524.2 L826 538.75 L886.75 538.75 L899.25 529.5" stroke-width="1.95" />
<path d="M899.25 530 L899.25 594.5" stroke-width="1.95" />
<text x="903.7" y="557.5" class="t">BK</text>
<path d="M820.95 551.2 A8.2 8 0 0 1 824.86 549.58 M827.14 549.58 A8.2 8 0 0 1 831.05 551.2 M831.05 563.8 A8.2 8 0 0 1 820.95 563.8 M833.92 555.43 A8.2 8 0 0 1 833.92 559.57 M818.08 559.57 A8.2 8 0 0 1 818.08 555.43" stroke-width="2.1"/>
<path d="M826 565.5 V573.8" stroke-width="3.6"/>
<path d="M820.6 574.2 A5.4 5.4 0 0 0 831.4 574.2" stroke-width="2"/>
<text x="838" y="555.8" class="t">Backup</text>
<text x="838" y="564.55" class="t">Lamp –</text>
<text x="838" y="573.3" class="t">Right</text>
<text x="834.2" y="586.3" class="t">G</text>
<path d="M826 580.6 L839.25 594.5 L899.25 594.5" stroke-width="1.95" />
<path d="M826 580.6 L826 612 L899.25 612 L899.25 635" stroke-width="1.95" />
<text x="858.5" y="608.3" class="t">BK</text>
<text x="869.2" y="634.3" class="t">C402</text>
<text x="908.7" y="634.3" class="t">E</text>
<path d="M893.85 640.7 A5.4 5.4 0 0 1 904.65 640.7" stroke-width="2"/>
<path d="M899.25 641.2 V648.8" stroke-width="3.6"/>
<text x="903.7" y="660.8" class="t">850</text>
<text x="903.7" y="669.55" class="t">BK</text>
<text x="903.7" y="678.3" class="t">0.5</text>
</svg>
</body></html>
